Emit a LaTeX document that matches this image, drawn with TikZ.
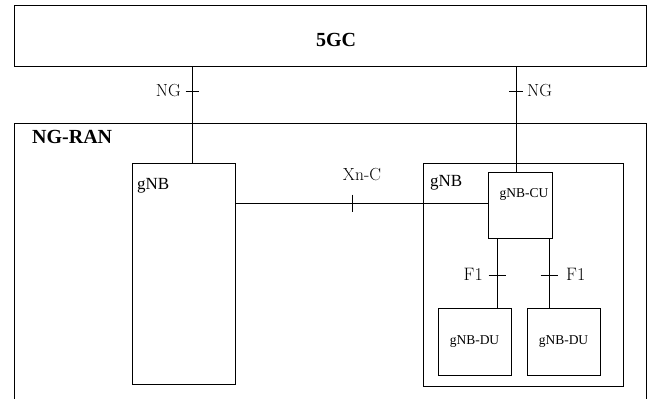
\documentclass[tikz,border=0pt]{standalone}
\usepackage{fontspec}
\newfontfamily\timesfont{Liberation Serif}
\begin{document}
\begin{tikzpicture}[x=1pt,y=-1pt,
  box/.style={draw=black, line width=0.9pt, rectangle, inner sep=0pt, outer sep=0pt, anchor=north west},
  conn/.style={draw=black, line width=0.8pt},
  tick/.style={draw=black, line width=0.8pt},
  tlabel/.style={inner sep=0pt, font=\timesfont\fontsize{17}{19}\selectfont},
  blabel/.style={inner sep=0pt, font=\timesfont\bfseries\fontsize{20}{22}\selectfont},
  ilabel/.style={inner sep=0pt, font=\fontsize{17.5}{19}\selectfont},
  slabel/.style={inner sep=0pt, font=\timesfont\fontsize{13.5}{15}\selectfont}]
\useasboundingbox (0,0) rectangle (649,399);
% core
\node[box, minimum width=632pt, minimum height=61pt] (core) at (14,5) {};
\node[blabel] (coreLbl) at (336,40) {5GC};
% NG-RAN (open at the bottom)
\coordinate (ranBL) at (14,400);
\coordinate (ranTL) at (14,123);
\coordinate (ranTR) at (646,123);
\coordinate (ranBR) at (646,400);
\draw[line width=0.9pt] (ranBL) -- (ranTL) -- (ranTR) -- (ranBR);
\node[blabel, anchor=north west] (ranLbl) at (32,130) {NG-RAN};
% gNBs
\node[box, minimum width=103pt, minimum height=221pt] (gnbA) at (132,163) {};
\node[tlabel, anchor=north west] (gnbAlbl) at (137,178) {gNB};
\node[box, minimum width=200pt, minimum height=223pt] (gnbB) at (423,163) {};
\node[tlabel, anchor=north west] (gnbBlbl) at (430,175) {gNB};
\node[box, minimum width=64pt, minimum height=66pt] (cu) at (488,172) {};
\node[slabel] (cuLbl) at (524,194) {gNB-CU};
\node[box, minimum width=73pt, minimum height=67pt] (duA) at (438,308) {};
\node[slabel] at (duA.center) (duAlbl) {gNB-DU};
\node[box, minimum width=73pt, minimum height=67pt] (duB) at (527,308) {};
\node[slabel] at (duB.center) (duBlbl) {gNB-DU};
% connector x / y positions
\coordinate (xNGL) at (192,0);
\coordinate (xNGR) at (516,0);
\coordinate (yXn) at (0,203);
\coordinate (xF1L) at (497,0);
\coordinate (xF1R) at (549,0);
% connectors
\draw[conn] (xNGL |- core.south) -- (xNGL |- gnbA.north);
\draw[conn] (xNGR |- core.south) -- (xNGR |- cu.north);
\draw[conn] (gnbA.east |- yXn) -- (cu.west |- yXn);
\draw[conn] (xF1L |- cu.south) -- (xF1L |- duA.north);
\draw[conn] (xF1R |- cu.south) -- (xF1R |- duB.north);
% ticks
\coordinate (tNGL) at (192,91);
\coordinate (tNGR) at (516,91);
\coordinate (tXn) at (352,203);
\coordinate (tF1L) at (497,275);
\coordinate (tF1R) at (549,275);
\draw[tick] ([xshift=-6.5pt]tNGL) -- ([xshift=6.5pt]tNGL);
\draw[tick] ([xshift=-7pt]tNGR) -- ([xshift=7pt]tNGR);
\draw[tick] ([yshift=8.5pt]tXn) -- ([yshift=-8.5pt]tXn);
\draw[tick] ([xshift=-8.5pt]tF1L) -- ([xshift=8.5pt]tF1L);
\draw[tick] ([xshift=-8.5pt]tF1R) -- ([xshift=8.5pt]tF1R);
% interface labels
\node[ilabel, anchor=east] (ngLlbl) at (181,91) {NG};
\node[ilabel, anchor=west] (ngRlbl) at (527,91) {NG};
\node[ilabel] (xnLbl) at (362,175) {Xn-C};
\node[ilabel, anchor=east, font=\fontsize{18}{20}\selectfont] (f1Llbl) at (483,274) {F1};
\node[ilabel, anchor=west, font=\fontsize{18}{20}\selectfont] (f1Rlbl) at (566,274) {F1};
\end{tikzpicture}
\end{document}
